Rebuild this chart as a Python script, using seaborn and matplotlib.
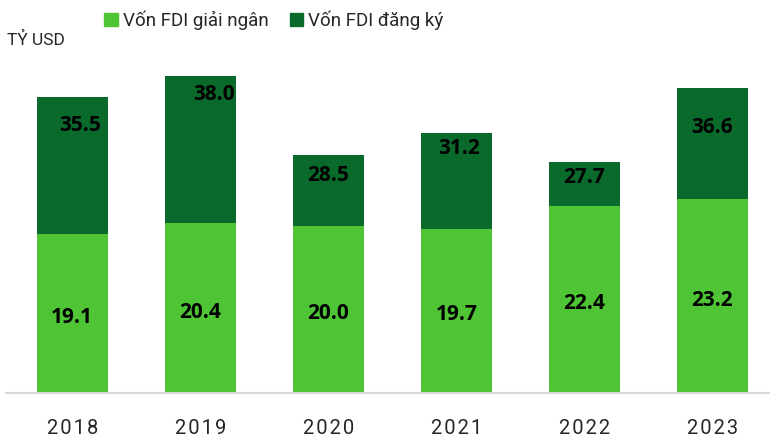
import pandas as pd
import numpy as np
import seaborn as sns
import matplotlib.pyplot as plt
from matplotlib.patches import Patch

years = ["2018", "2019", "2020", "2021", "2022", "2023"]
registered = [35.5, 38.0, 28.5, 31.2, 27.7, 36.6]
disbursed = [19.1, 20.4, 20.0, 19.7, 22.4, 23.2]
label_registered = "Vốn FDI đăng ký"
label_disbursed = "Vốn FDI giải ngân"
unit = "TỶ USD"

# where each registered label sits relative to its bar top (data units)
reg_label_drop = [3.5, 2.2, 2.4, 1.9, 1.9, 4.8]
reg_label_shift = [0.06, 0.11, 0.0, 0.02, 0.0, 0.0]

light = "#4FC536"
dark = "#0A6A2C"
narrow = ["Roboto", "DejaVu Sans"]

sns.set_theme(style="white")
plt.rcParams["font.family"] = ["Open Sans", "DejaVu Sans"]

df = pd.DataFrame({"year": years, "registered": registered, "disbursed": disbursed})

fig = plt.figure(figsize=(7.7, 4.38), dpi=100)
ax = fig.add_axes([0.008, 1 - 393 / 438, 0.992, (393 - 60) / 438])

# registered bar sits behind, disbursed drawn over it from zero
sns.barplot(data=df, x="year", y="registered", color=dark, width=0.555,
            saturation=1, ax=ax, edgecolor="none")
sns.barplot(data=df, x="year", y="disbursed", color=light, width=0.555,
            saturation=1, ax=ax, edgecolor="none")

ax.set_ylim(0, 39.9)
ax.set_xlim(-0.516, 5.45)

for i, (r, d) in enumerate(zip(registered, disbursed)):
    ax.text(i + reg_label_shift[i], r - reg_label_drop[i], f"{r:.1f}",
            ha="center", va="center", fontsize=15, fontweight="bold", color="black")
    ax.text(i, d / 2 - 0.5, f"{d:.1f}", ha="center", va="center",
            fontsize=15, fontweight="bold", color="black")

for s in ["top", "right", "left"]:
    ax.spines[s].set_visible(False)
ax.spines["bottom"].set_color("#D9D9D9")
ax.spines["bottom"].set_linewidth(1.5)
ax.set_yticks([])
ax.set_xticks(range(len(years)))
ax.set_xticklabels(["\u200a".join(y) for y in years], family=narrow, fontsize=14.5)
ax.tick_params(axis="x", length=0, pad=19)
ax.set_xlabel("")
ax.set_ylabel("")

fig.text(7 / 770, 1 - 40 / 438, unit, ha="left", va="center", fontsize=12.5,
         family=narrow)

handles = [Patch(color=light, label=label_disbursed), Patch(color=dark, label=label_registered)]
fig.legend(handles=handles, loc="center", bbox_to_anchor=(274 / 770, 1 - 20 / 438),
           ncol=2, frameon=False, handlelength=0.7, handleheight=0.7,
           handletextpad=0.3, columnspacing=1.1,
           prop={"family": narrow, "size": 13.5})

fig.savefig("out.png", dpi=100)
